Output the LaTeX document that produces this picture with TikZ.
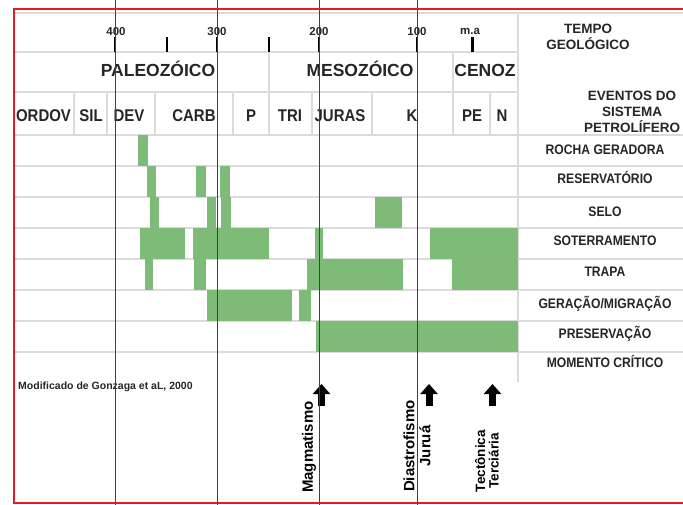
\documentclass[tikz,border=0pt]{standalone}
\usepackage{fontspec}
\setmainfont{Liberation Sans}
\newfontfamily\estreita[FakeStretch=0.88]{Liberation Sans}
\usetikzlibrary{arrows.meta}
\definecolor{petro}{RGB}{126,187,120}
\definecolor{moldura}{RGB}{222,30,36}

\begin{document}
\begin{tikzpicture}[x=1pt, y=-1pt, >=latex,
    grade/.style={black!14, line width=1.2pt},
    corte/.style={black!75, line width=0.9pt},
    marca/.style={black, line width=2.6pt},
    idade/.style={font=\bfseries\fontsize{11.5}{13}\selectfont, inner sep=0pt, text height=8.2pt, text depth=0pt, text=black!85},
    era/.style={font=\bfseries\fontsize{17.5}{20}\selectfont, inner sep=0pt, text height=12.5pt, text depth=0pt, text=black!85},
    periodo/.style={font=\estreita\bfseries\fontsize{17}{19}\selectfont, inner sep=0pt, text height=12.2pt, text depth=0pt, text=black!85},
    evento/.style={font=\estreita\bfseries\fontsize{13.8}{16}\selectfont, inner sep=0pt, text height=9.9pt, text depth=0pt, text=black!85},
    cabec/.style={font=\bfseries\fontsize{13.5}{16}\selectfont, align=center, inner sep=0pt, text=black!85},
    marco/.style={font=\bfseries\fontsize{15}{16}\selectfont, rotate=90, align=center, inner sep=0pt},
    seta/.style={line width=7pt, -{Triangle[width=17pt,length=10pt]}}]
\useasboundingbox (0,0) rectangle (683,505);
\clip (0,0) rectangle (683,505);
\fill[white] (0,0) rectangle (683,505);

\draw[grade] (14,13) -- (683,13);
\foreach \y in {52,92} \draw[grade] (14,\y) -- (518,\y);
\foreach \i in {0,...,7} \draw[grade] (14,{135+31*\i}) -- (683,{135+31*\i});
\draw[grade] (518,13) -- (518,382);
\foreach \x in {74,107,155,233,269,312,372,453,490} \draw[grade] (\x,92) -- (\x,135);
\foreach \x in {269,453} \draw[grade] (\x,52) -- (\x,92);

\foreach \r/\a/\b in {0/137.7/148.3,
    1/146.7/155.7, 1/196/205.7, 1/220/230,
    2/150/159.3, 2/206.7/216, 2/221/231, 2/375/402.3,
    3/140/185, 3/193.3/269.3, 3/315/322.7, 3/430/518,
    4/145/153.3, 4/194/205.7, 4/306.7/402.7, 4/451.7/518,
    5/206.7/291.7, 5/299.3/311,
    6/315.7/518}
  \fill[petro] (\a,{135+31*\r}) rectangle (\b,{166+31*\r});

\foreach \x in {115,167,217,269,319,417,472.5} \draw[marca] (\x,37) -- (\x,52);
\node[idade] (t400) at (116,31) {400};
\node[idade] (t300) at (217,31) {300};
\node[idade] (t200) at (319,31) {200};
\node[idade] (t100) at (417,31) {100};
\node[idade] (ma) at (470,30) {m.a};

\node[cabec] (tempo) at (588,37) {TEMPO\\GEOLÓGICO};
\node[cabec] (eventos) at (632,111.5) {EVENTOS DO\\SISTEMA\\PETROLÍFERO};

\node[era] (paleo) at (158,70) {PALEOZÓICO};
\node[era] (meso) at (360,70) {MESOZÓICO};
\node[era] (ceno) at (485,70) {CENOZ};

\node[periodo] (ordov) at (43.5,115) {ORDOV};
\node[periodo] (sil) at (91,115) {SIL};
\node[periodo] (dev) at (129,115) {DEV};
\node[periodo] (carb) at (194,115) {CARB};
\node[periodo] (perm) at (251,115) {P};
\node[periodo] (tri) at (290,115) {TRI};
\node[periodo] (juras) at (340,115) {JURAS};
\node[periodo] (cret) at (412,115) {K};
\node[periodo] (pal) at (472,115) {PE};
\node[periodo] (neo) at (502,115) {N};

\foreach \n/\t/\y in {roch/ROCHA GERADORA/150, res/RESERVATÓRIO/178.5,
    selo/SELO/211.5, soter/SOTERRAMENTO/240.5, trapa/TRAPA/271.5,
    ger/{GERAÇÃO/MIGRAÇÃO}/303.5, pres/PRESERVAÇÃO/334, crit/MOMENTO CRÍTICO/363}
  \node[evento] (\n) at (605,\y) {\t};

\node[font=\bfseries\fontsize{10.5}{12}\selectfont, inner sep=0pt, anchor=base west, text=black!85] (fonte) at (18,389) {Modificado de Gonzaga et aL, 2000};

\coordinate (magA) at (321.5,406); \coordinate (magB) at (321.5,384);
\coordinate (diaA) at (429,406);   \coordinate (diaB) at (429,384);
\coordinate (tecA) at (492.5,406); \coordinate (tecB) at (492.5,384);
\draw[seta] (magA) -- (magB);
\draw[seta] (diaA) -- (diaB);
\draw[seta] (tecA) -- (tecB);
\node[marco] (magma) at (309,447) {Magmatismo};
\node[marco] (diast) at (417,446) {Diastrofismo\\Juruá};
\node[marco, font=\bfseries\fontsize{13.5}{13.5}\selectfont] (tect) at (487,461) {Tectônica\\Terciária};

\foreach \x in {115,217,319,417} \draw[corte] (\x,0) -- (\x,505);
\draw[moldura, line width=2pt] (700,9) -- (14,9) -- (14,502.5) -- (700,502.5);
\end{tikzpicture}
\end{document}
